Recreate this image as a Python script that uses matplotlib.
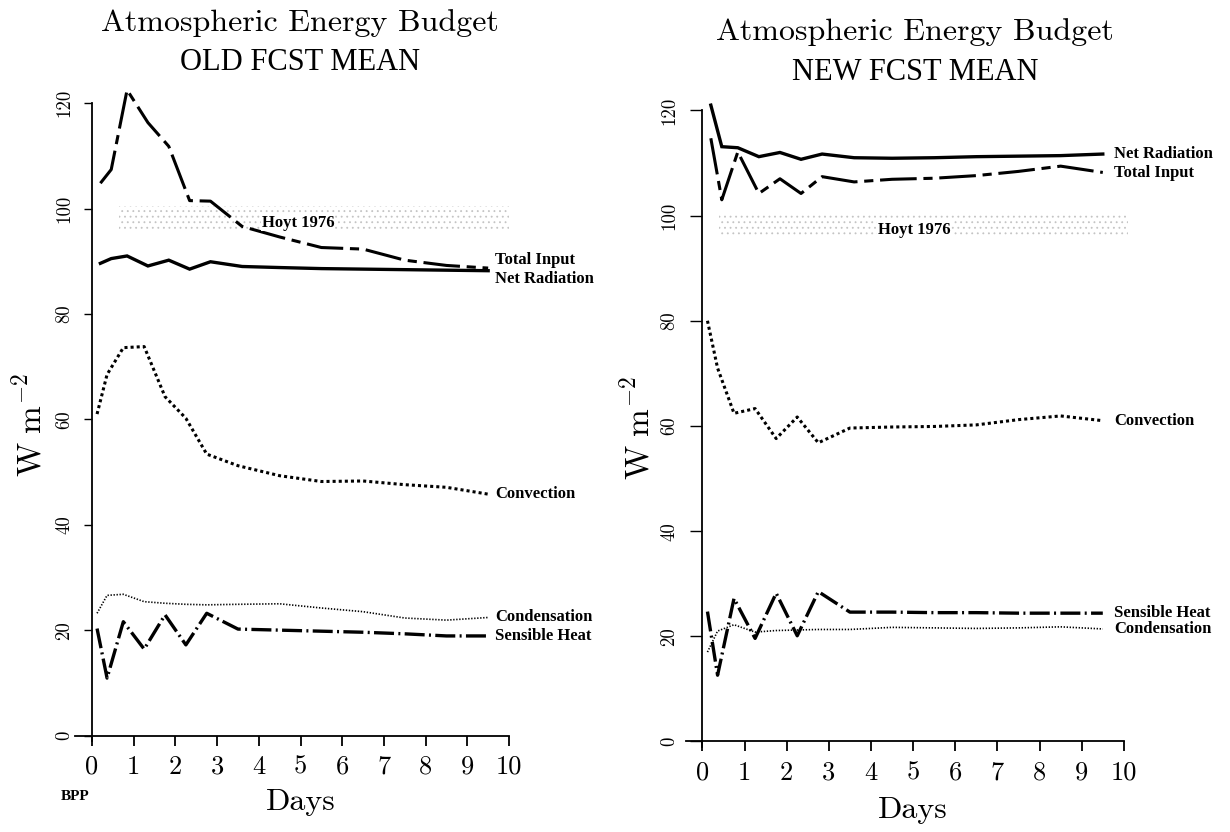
import matplotlib
matplotlib.use("Agg")
import matplotlib.pyplot as plt

plt.rcParams["mathtext.fontset"] = "cm"
plt.rcParams["axes.unicode_minus"] = False
plt.rcParams["hatch.linewidth"] = 0.6

# ---------------- data ----------------
days_rad = [0.2, 0.46, 0.84, 1.34, 1.84, 2.34, 2.84, 3.6, 4.5, 5.5, 6.5, 7.5, 8.5, 9.5]
days_flux = [0.12, 0.36, 0.75, 1.25, 1.75, 2.25, 2.75, 3.5, 4.5, 5.5, 6.5, 7.5, 8.5, 9.5]

old_total_input = [104.8, 107.4, 122.5, 116.3, 111.8, 101.5, 101.4, 96.6, 94.6, 92.6, 92.3, 90.2, 89.2, 88.7]
old_net_radiation = [89.6, 90.5, 91.0, 89.1, 90.2, 88.5, 89.9, 89.0, 88.8, 88.6, 88.5, 88.4, 88.3, 88.2]
old_convection = [61.0, 68.5, 73.6, 73.8, 64.3, 60.2, 53.4, 51.2, 49.3, 48.2, 48.3, 47.6, 47.1, 45.8]
old_condensation = [23.2, 26.6, 26.8, 25.4, 25.1, 24.9, 24.8, 24.9, 25.0, 24.2, 23.5, 22.3, 21.9, 22.4]
old_sensible_heat = [20.3, 10.9, 21.6, 16.4, 22.9, 17.2, 23.2, 20.2, 20.0, 19.8, 19.6, 19.3, 18.9, 18.9]

new_total_input = [114.7, 103.0, 112.1, 104.2, 107.0, 104.2, 107.4, 106.4, 106.9, 107.1, 107.6, 108.4, 109.4, 108.2]
new_net_radiation = [121.0, 113.1, 112.9, 111.2, 112.0, 110.7, 111.7, 111.0, 110.9, 111.0, 111.2, 111.3, 111.4, 111.7]
new_convection = [80.0, 71.0, 62.4, 63.3, 57.6, 61.7, 56.8, 59.6, 59.8, 59.9, 60.2, 61.2, 61.9, 61.0]
new_condensation = [17.0, 21.0, 22.2, 20.8, 21.1, 21.2, 21.3, 21.3, 21.7, 21.6, 21.5, 21.6, 21.8, 21.4]
new_sensible_heat = [24.7, 12.6, 27.2, 19.6, 28.2, 20.1, 28.5, 24.6, 24.6, 24.5, 24.5, 24.4, 24.4, 24.4]

hoyt_range = [96.0, 100.5]
x_ticks = [0, 1, 2, 3, 4, 5, 6, 7, 8, 9, 10]
y_ticks = [0, 20, 40, 60, 80, 100, 120]

# ---------------- styles ----------------
LBL = dict(fontfamily="Liberation Serif", fontweight="bold", fontsize=12, va="center", ha="left")
ST_NET = dict(color="black", lw=2.4, linestyle="-", solid_joinstyle="miter")
ST_TOT = dict(color="black", lw=2.2, linestyle=(0, (12, 2.2, 3, 2.2)))
ST_CONV = dict(color="black", lw=2.2, linestyle=(0, (1.0, 1.0)))
ST_COND = dict(color="black", lw=1.2, linestyle=(0, (0.8, 1.0)))
ST_SENS = dict(color="black", lw=2.4, linestyle=(0, (6, 1.3, 0.6, 1.3)))

fig = plt.figure(figsize=(12.3, 8.32), dpi=100)


def setup(ax, ytick_len, ytick_pad):
    ax.set_xlim(-0.6, 10.3)
    ax.set_ylim(-4, 124)
    for s in ("top", "right"):
        ax.spines[s].set_visible(False)
    ax.spines["left"].set_position(("data", 0))
    ax.spines["bottom"].set_position(("data", 0))
    ax.spines["left"].set_bounds(-1, 120)
    ax.spines["bottom"].set_bounds(-0.4, 10)
    ax.spines["left"].set_linewidth(1.3)
    ax.spines["bottom"].set_linewidth(1.3)
    ax.set_xticks(x_ticks)
    ax.set_yticks(y_ticks)
    ax.tick_params(axis="x", direction="out", length=7, width=1.3, pad=7, labelsize=19)
    ax.tick_params(axis="y", direction="out", length=ytick_len, width=1.0, pad=ytick_pad,
                   labelsize=13.5)
    for lbl in ax.get_xticklabels():
        lbl.set_fontfamily("cmr10")
    for lbl in ax.get_yticklabels():
        lbl.set_fontfamily("cmr10")
        lbl.set_rotation(90)
        lbl.set_va("center")
    ax.patch.set_visible(False)


# ---------------- left panel ----------------
axL = fig.add_axes([0.0545, 0.0906, 0.3695, 0.8108])
setup(axL, 6, 7.5)
axL.fill_between([0.65, 10.0], hoyt_range[0], hoyt_range[1], facecolor="none",
                 edgecolor="#c4c4c4", hatch="...", linewidth=0)
axL.text(4.95, 97.3, "Hoyt 1976", fontfamily="Liberation Serif", fontweight="bold",
         fontsize=12, ha="center", va="center",
         bbox=dict(facecolor="white", edgecolor="none", pad=0.5))
axL.plot(days_rad, old_total_input, **ST_TOT)
axL.plot(days_rad, old_net_radiation, **ST_NET)
axL.plot(days_flux, old_convection, **ST_CONV)
axL.plot(days_flux, old_condensation, **ST_COND)
axL.plot(days_flux, old_sensible_heat, **ST_SENS)
axL.text(9.66, 90.3, "Total Input", clip_on=False, **LBL)
axL.text(9.66, 86.7, "Net Radiation", clip_on=False, **LBL)
axL.text(9.66, 45.8, "Convection", clip_on=False, **LBL)
axL.text(9.66, 22.5, "Condensation", clip_on=False, **LBL)
axL.text(9.66, 18.9, "Sensible Heat", clip_on=False, **LBL)
axL.text(5.0, -12.6, "Days", fontfamily="cmr10", fontsize=23, ha="center", va="center")

# ---------------- right panel ----------------
axR = fig.add_axes([0.5505, 0.0835, 0.3735, 0.8091])
setup(axR, 9, 8.5)
axR.fill_between([0.4, 10.1], hoyt_range[0], hoyt_range[1], facecolor="none",
                 edgecolor="#c4c4c4", hatch="...", linewidth=0)
axR.text(5.03, 97.3, "Hoyt 1976", fontfamily="Liberation Serif", fontweight="bold",
         fontsize=12, ha="center", va="center",
         bbox=dict(facecolor="white", edgecolor="none", pad=0.5))
axR.plot(days_rad, new_total_input, **ST_TOT)
axR.plot(days_rad, new_net_radiation, **ST_NET)
axR.plot(days_flux, new_convection, **ST_CONV)
axR.plot(days_flux, new_condensation, **ST_COND)
axR.plot(days_flux, new_sensible_heat, **ST_SENS)
axR.text(9.77, 111.7, "Net Radiation", clip_on=False, **LBL)
axR.text(9.77, 108.1, "Total Input", clip_on=False, **LBL)
axR.text(9.77, 61.0, "Convection", clip_on=False, **LBL)
axR.text(9.77, 24.4, "Sensible Heat", clip_on=False, **LBL)
axR.text(9.77, 21.3, "Condensation", clip_on=False, **LBL)
axR.text(5.0, -13.0, "Days", fontfamily="cmr10", fontsize=23, ha="center", va="center")

# ---------------- titles and axis labels ----------------
W, H = 1230.0, 832.0
fig.text(300 / W, 1 - 23 / H, "Atmospheric Energy Budget", fontfamily="cmr10", fontsize=23,
         ha="center", va="center")
fig.text(300 / W, 1 - 63 / H, "OLD FCST MEAN", fontfamily="Liberation Serif", fontsize=22,
         ha="center", va="center")
fig.text(915 / W, 1 - 32 / H, "Atmospheric Energy Budget", fontfamily="cmr10", fontsize=23,
         ha="center", va="center")
fig.text(915 / W, 1 - 72 / H, "NEW FCST MEAN", fontfamily="Liberation Serif", fontsize=22,
         ha="center", va="center")
fig.text(30 / W, 1 - 425 / H, r"$\mathrm{W\ m^{-2}}$", fontsize=24, rotation=90,
         ha="center", va="center")
fig.text(638 / W, 1 - 428 / H, r"$\mathrm{W\ m^{-2}}$", fontsize=24, rotation=90,
         ha="center", va="center")
fig.text(75 / W, 1 - 797 / H, "BPP", fontfamily="Liberation Serif", fontweight="bold",
         fontsize=11, ha="center", va="center")

fig.savefig("out.png", dpi=100, facecolor="white")
